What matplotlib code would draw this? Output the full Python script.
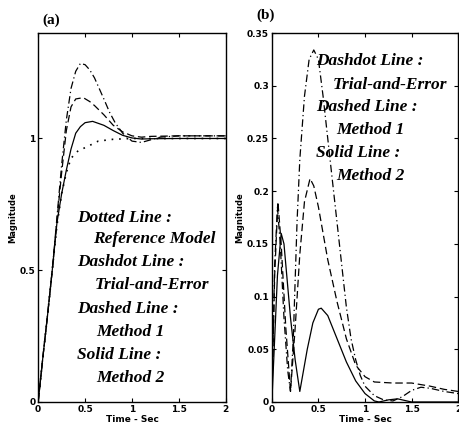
import matplotlib
matplotlib.use("Agg")
import matplotlib.pyplot as plt

# --- (a) step responses ---
t_ref = [0, 0.05, 0.1, 0.15, 0.2, 0.25, 0.3, 0.35, 0.43, 0.5, 0.64, 0.8, 1.0, 1.5, 2.0]
y_ref = [0, 0.17, 0.33, 0.5, 0.67, 0.79, 0.87, 0.925, 0.955, 0.965, 0.99, 0.997, 1.0, 1.0, 1.0]

t_m2 = [0, 0.05, 0.1, 0.15, 0.2, 0.25, 0.3, 0.35, 0.4, 0.45, 0.5, 0.58, 0.7, 0.8, 0.9, 1.0, 1.1, 1.2, 1.5, 2.0]
y_m2 = [0, 0.17, 0.33, 0.5, 0.68, 0.79, 0.88, 0.96, 1.02, 1.045, 1.06, 1.065, 1.05, 1.03, 1.012, 1.002, 0.998, 0.999, 1.0, 1.0]

t_m1 = [0, 0.05, 0.1, 0.15, 0.2, 0.25, 0.3, 0.35, 0.4, 0.48, 0.55, 0.6, 0.7, 0.8, 0.9, 1.0, 1.1, 1.2, 1.5, 2.0]
y_m1 = [0, 0.17, 0.33, 0.5, 0.69, 0.87, 1.03, 1.12, 1.15, 1.155, 1.14, 1.125, 1.09, 1.05, 1.025, 1.01, 1.005, 1.008, 1.01, 1.01]

t_te = [0, 0.05, 0.1, 0.15, 0.2, 0.25, 0.3, 0.35, 0.4, 0.45, 0.5, 0.55, 0.6, 0.65, 0.7, 0.76, 0.82, 0.9, 1.0, 1.1, 1.2, 1.3, 1.5, 2.0]
y_te = [0, 0.17, 0.33, 0.5, 0.70, 0.9, 1.07, 1.19, 1.255, 1.285, 1.28, 1.26, 1.23, 1.19, 1.15, 1.1, 1.06, 1.02, 0.99, 0.985, 0.995, 1.005, 1.01, 1.01]

# --- (b) error magnitudes ---
e_m2_t = [0, 0.03, 0.06, 0.1, 0.13, 0.17, 0.2, 0.25, 0.3, 0.33, 0.38, 0.44, 0.5, 0.53, 0.6, 0.7, 0.8, 0.9, 1.0, 1.1, 1.15, 1.25, 1.35, 1.45, 1.5, 2.0]
e_m2 = [0, 0.06, 0.12, 0.16, 0.15, 0.11, 0.08, 0.04, 0.01, 0.025, 0.05, 0.075, 0.088, 0.089, 0.082, 0.06, 0.038, 0.02, 0.008, 0.001, 0, 0.002, 0.003, 0.001, 0, 0]

e_m1_t = [0, 0.03, 0.065, 0.1, 0.15, 0.2, 0.25, 0.3, 0.35, 0.41, 0.45, 0.5, 0.55, 0.6, 0.7, 0.8, 0.9, 1.0, 1.1, 1.3, 1.5, 1.7, 1.85, 2.0]
e_m1 = [0, 0.12, 0.19, 0.15, 0.07, 0.01, 0.07, 0.14, 0.19, 0.212, 0.205, 0.185, 0.16, 0.135, 0.095, 0.06, 0.035, 0.024, 0.019, 0.018, 0.018, 0.015, 0.012, 0.01]

e_te_t = [0, 0.03, 0.06, 0.09, 0.13, 0.17, 0.2, 0.23, 0.27, 0.3, 0.35, 0.4, 0.45, 0.5, 0.55, 0.6, 0.65, 0.7, 0.75, 0.8, 0.85, 0.9, 0.95, 1.0, 1.1, 1.2, 1.3, 1.4, 1.5, 1.6, 1.7, 1.85, 2.0]
e_te = [0, 0.13, 0.185, 0.15, 0.08, 0.03, 0.01, 0.06, 0.17, 0.23, 0.29, 0.325, 0.334, 0.325, 0.29, 0.25, 0.21, 0.17, 0.13, 0.09, 0.06, 0.04, 0.025, 0.015, 0.006, 0.002, 0.001, 0.005, 0.011, 0.014, 0.013, 0.01, 0.008]

note_font = dict(fontsize=12.5, fontweight='bold', style='italic', family='Liberation Serif')

dashed = (0, (6, 3))
dashdot = (0, (6, 2.5, 1, 2.5))
dotted = (0, (1, 3.5))

fig = plt.figure(figsize=(4.6, 4.33), dpi=100)
ax1 = fig.add_axes([0.083, 0.0716, 0.408, 0.852])
ax2 = fig.add_axes([0.591, 0.0716, 0.405, 0.852])

lw = 0.9
ax1.plot(t_ref, y_ref, color='k', lw=1.2, linestyle=dotted)
ax1.plot(t_te, y_te, color='k', lw=lw, linestyle=dashdot)
ax1.plot(t_m1, y_m1, color='k', lw=lw, linestyle=dashed)
ax1.plot(t_m2, y_m2, color='k', lw=lw)
ax1.set_xlim(0, 2)
ax1.set_ylim(0, 1.4)
ax1.set_yticks([0, 0.5, 1])
ax1.set_yticklabels(['0', '0.5', '1'])

ax2.plot(e_te_t, e_te, color='k', lw=lw, linestyle=dashdot)
ax2.plot(e_m1_t, e_m1, color='k', lw=lw, linestyle=dashed)
ax2.plot(e_m2_t, e_m2, color='k', lw=lw)
ax2.set_xlim(0, 2)
ax2.set_ylim(0, 0.35)
ax2.set_yticks([0, 0.05, 0.1, 0.15, 0.2, 0.25, 0.3, 0.35])
ax2.set_yticklabels(['0', '0.05', '0.1', '0.15', '0.2', '0.25', '0.3', '0.35'])

for ax in (ax1, ax2):
    ax.set_xticks([0, 0.5, 1, 1.5, 2])
    ax.set_xticklabels(['0', '0.5', '1', '1.5', '2'])
    ax.tick_params(direction='in', top=True, right=True, length=3, width=0.8, pad=2)
    for lab in ax.get_xticklabels() + ax.get_yticklabels():
        lab.set_fontsize(6.5)
        lab.set_fontweight('bold')
    for s in ax.spines.values():
        s.set_linewidth(1.0)
    ax.set_xlabel('Time - Sec', fontsize=6.5, fontweight='bold', labelpad=1)
    ax.set_ylabel('Magnitude', fontsize=6, fontweight='bold', labelpad=2)

notes_a = [(0.41, 0.70, 'Dotted Line :'), (0.58, 0.617, 'Reference Model'),
           (0.41, 0.53, 'Dashdot Line :'), (0.60, 0.443, 'Trial-and-Error'),
           (0.41, 0.352, 'Dashed Line :'), (0.62, 0.265, 'Method 1'),
           (0.41, 0.178, 'Solid Line :'), (0.62, 0.09, 'Method 2')]
for x, y, s in notes_a:
    ax1.text(x, y, s, va='center', ha='left', **note_font)

notes_b = [(0.473, 0.3235, 'Dashdot Line :'), (0.656, 0.301, 'Trial-and-Error'),
           (0.473, 0.280, 'Dashed Line :'), (0.688, 0.258, 'Method 1'),
           (0.473, 0.236, 'Solid Line :'), (0.688, 0.214, 'Method 2')]
for x, y, s in notes_b:
    ax2.text(x, y, s, va='center', ha='left', **note_font)

fig.text(0.093, 0.953, '(a)', fontsize=11, fontweight='bold', family='Liberation Serif', va='center')
fig.text(0.558, 0.965, '(b)', fontsize=11, fontweight='bold', family='Liberation Serif', va='center')

fig.savefig('out.png', dpi=100)
